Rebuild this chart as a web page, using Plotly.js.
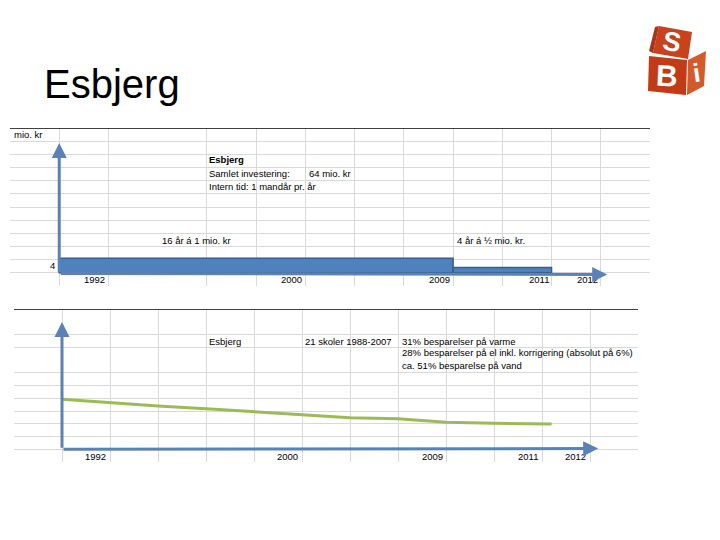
<!DOCTYPE html>
<html>
<head>
<meta charset="utf-8">
<script src="https://cdn.plot.ly/plotly-3.0.1.min.js"></script>
<style>html,body{margin:0;padding:0;background:#fff;}#chart{width:720px;height:540px;}</style>
</head>
<body>
<div id="chart"></div>
<script>
// ---------- data (column / row units of the sheet grid) ----------
// Top chart: investment segments
const segLabels   = ['16 år á 1 mio. kr', '4 år á ½ mio. kr.'];
const segStart    = [1, 9];
const segEnd      = [9, 11];
const segHeight   = [1.1, 0.4];

// Year labels (cell right edge, column index)
const topYears    = ['1992', '2000', '2009', '2011', '2012'];
const topYearCols = [2, 6, 9, 11, 12];
const botYears    = ['1992', '2000', '2009', '2011', '2012'];
const botYearCols = [1.96, 5.96, 8.98, 10.96, 11.96];

// Bottom chart: consumption line
const lineX = [1, 2, 3, 4, 5, 6, 7, 8, 9, 10, 11.2];
const lineY = [4.92, 4.65, 4.39, 4.18, 3.95, 3.71, 3.47, 3.40, 3.11, 3.03, 2.98];

// Text blocks
const topNotes = ['<b>Esbjerg</b>', 'Samlet investering:', 'Intern tid: 1 mandår pr. år'];
const topNoteRows = [9.57, 8.58, 7.59];
const botNotes = ['31% besparelser på varme', '28% besparelser på el inkl. korrigering (absolut på 6%)', 'ca. 51% besparelse på vand'];
const botNoteRows = [9.49, 8.55, 7.53];

// grid lines
const topGridX = [0,1,2,4,5,6,7,8,9,10,11,12,13];
const topGridY = [0,1,2,3,4,5,6,7,8,9,10,11,12];
const botGridX = [0,1,2,3,4,5,6,7,8,9,10,11,12,13];
const botGridY = [0,1,2,3,4,5,6,7,9,10];

// ---------- helpers ----------
const W = 720, H = 540;
const px = v => v / W;
const py = v => 1 - v / H;
const FONT = 'Arial, "Liberation Sans", sans-serif';
const small = {family: FONT, size: 9.5, color: '#000'};
const BLUE = '#4f81bd', BLUE_D = '#385d8a', ARROW = '#5a82b6', GREEN = '#9bbb59';

const traces = [
  {
    type: 'bar', orientation: 'h',
    y: segStart.map((s, i) => 1 + segHeight[i] / 2),
    x: segEnd.map((e, i) => e - segStart[i]),
    base: segStart,
    width: segHeight,
    xaxis: 'x', yaxis: 'y',
    marker: {color: BLUE, line: {color: BLUE_D, width: 1.5}},
    hoverinfo: 'skip'
  },
  {
    type: 'scatter', mode: 'lines',
    x: lineX, y: lineY,
    xaxis: 'x2', yaxis: 'y2',
    line: {color: GREEN, width: 3},
    hoverinfo: 'skip'
  }
];

const axBase = {
  showticklabels: false, ticks: '', zeroline: false, showline: false,
  gridcolor: '#d9d9d9', gridwidth: 1, fixedrange: true
};

const annotations = [];
function txt(t, x, y, xref, yref, opts) {
  annotations.push(Object.assign({text: t, x: x, y: y, xref: xref, yref: yref,
    showarrow: false, font: small, xanchor: 'left', yanchor: 'middle'}, opts || {}));
}
// Title
txt('Esbjerg', px(42), py(84), 'paper', 'paper', {font: {family: FONT, size: 40, color: '#000'}});

// Top chart text
txt('mio. kr', 0.05, 11.5, 'x', 'y');
txt('4', 0.95, 1.52, 'x', 'y', {xanchor: 'right'});
topNotes.forEach((t, i) => txt(t, 4.0, topNoteRows[i], 'x', 'y'));
txt('64 mio. kr', 6.04, 8.58, 'x', 'y');
txt(segLabels[0], 3.05, 3.49, 'x', 'y');
txt(segLabels[1], 9.04, 3.49, 'x', 'y');
topYears.forEach((t, i) => txt(t, topYearCols[i] - 0.02, 0.5, 'x', 'y', {xanchor: 'right'}));

// Bottom chart text
txt('Esbjerg', 4.02, 9.49, 'x2', 'y2');
txt('21 skoler 1988-2007', 7.92, 9.49, 'x2', 'y2', {xanchor: 'right'});
botNotes.forEach((t, i) => txt(t, 8.04, botNoteRows[i], 'x2', 'y2'));
botYears.forEach((t, i) => txt(t, botYearCols[i], 0.47, 'x2', 'y2', {xanchor: 'right'}));

// Arrows
function arrow(x0, y0, x1, y1, xr, yr) {
  annotations.push({x: x1, y: y1, ax: x0, ay: y0, xref: xr, yref: yr, axref: xr, ayref: yr,
    text: '', showarrow: true, arrowhead: 2, arrowsize: 1, arrowwidth: 3, arrowcolor: ARROW, standoff: 0});
}
arrow(1, 0.95, 1, 10.86, 'x', 'y');
arrow(1, 0.95, 12.13, 0.88, 'x', 'y');
arrow(1, 1.0, 1, 10.98, 'x2', 'y2');
arrow(1, 1.0, 12.17, 1.05, 'x2', 'y2');

// Shapes: sheet top borders, bar shadow + logo
const shapes = [
  {type: 'line', xref: 'x', yref: 'y', x0: 0, x1: 13, y0: 12, y1: 12, line: {color: '#000', width: 1.5}},
  {type: 'line', xref: 'x2', yref: 'y2', x0: 0, x1: 13, y0: 12, y1: 12, line: {color: '#000', width: 1.5}}
];
function poly(pts, color) {
  const d = pts.map((p, i) => (i ? 'L' : 'M') + px(p[0]).toFixed(5) + ',' + py(p[1]).toFixed(5)).join(' ') + ' Z';
  shapes.push({type: 'path', xref: 'paper', yref: 'paper', path: d, fillcolor: color, line: {width: 0}});
}
poly([[659,26],[692,32],[688,59],[653,53]], '#c8431d');
poly([[653,53],[659,26],[655,27],[649,51]], '#a8341a');
poly([[649,56],[687,60],[686,95],[648,91]], '#c23b17');
poly([[688,60],[706,51],[704,86],[687,95]], '#d45a2c');
txt('<b>S</b>', px(672), py(42), 'paper', 'paper', {xanchor: 'center', textangle: 10, font: {family: FONT, size: 27, color: '#fff'}});
txt('<b>B</b>', px(667), py(76), 'paper', 'paper', {xanchor: 'center', textangle: 3, font: {family: FONT, size: 30, color: '#fff'}});
txt('<b>i</b>', px(696), py(73), 'paper', 'paper', {xanchor: 'center', textangle: -8, font: {family: FONT, size: 26, color: '#fff'}});

const layout = {
  width: W, height: H,
  margin: {l: 0, r: 0, t: 0, b: 0},
  paper_bgcolor: '#fff', plot_bgcolor: '#fff',
  showlegend: false, hovermode: false,
  xaxis: Object.assign({}, axBase, {domain: [px(10), px(650)], range: [0, 13], tickvals: topGridX, anchor: 'y'}),
  yaxis: Object.assign({}, axBase, {domain: [py(286), py(128)], range: [0, 12], tickvals: topGridY, anchor: 'x'}),
  xaxis2: Object.assign({}, axBase, {domain: [px(14), px(638)], range: [0, 13], tickvals: botGridX, anchor: 'y2'}),
  yaxis2: Object.assign({}, axBase, {domain: [py(462), py(309)], range: [0, 12], tickvals: botGridY, anchor: 'x2'}),
  annotations: annotations,
  shapes: shapes,
  bargap: 0
};

Plotly.newPlot('chart', traces, layout, {staticPlot: true, displayModeBar: false});
</script>
</body>
</html>
